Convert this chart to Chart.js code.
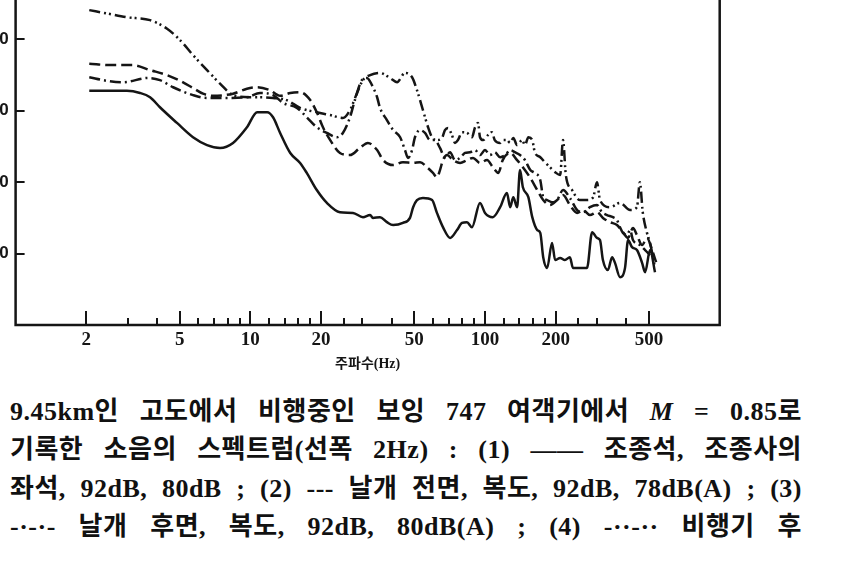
<!DOCTYPE html>
<html>
<head>
<meta charset="utf-8">
<script src="https://cdn.jsdelivr.net/npm/chart.js@4.4.1/dist/chart.umd.min.js"></script>
<style>
  html, body { margin: 0; padding: 0; background: #fff; }
  body { width: 868px; height: 562px; overflow: hidden; position: relative; }
  #chart { position: absolute; left: -60px; top: 0; }
  .cap {
    position: absolute; left: 10px; width: 792px;
    font-family: "Liberation Serif", "Noto Sans CJK KR", serif; font-weight: 700;
    font-size: 26px; letter-spacing: 0.5px; line-height: 38.5px; color: #111;
    text-align: justify; text-align-last: justify; white-space: nowrap;
  }
</style>
</head>
<body>
<canvas id="chart" width="928" height="380"></canvas>
<div class="cap" style="top:393px">9.45km인 고도에서 비행중인 보잉 747 여객기에서 <i>M</i> = 0.85로</div>
<div class="cap" style="top:431px">기록한 소음의 스펙트럼(선폭 2Hz) : (1) —— 조종석, 조종사의</div>
<div class="cap" style="top:470px">좌석, 92dB, 80dB ; (2) --- 날개 전면, 복도, 92dB, 78dB(A) ; (3)</div>
<div class="cap" style="top:508px">-·-·- 날개 후면, 복도, 92dB, 80dB(A) ; (4) -··-·· 비행기 후</div>
<script>
// frequency (Hz) and level (dB)
const s1Freq = [2.06, 2.98, 3.39, 3.74, 4.12, 4.87, 5.70, 6.54, 7.43, 8.44, 9.68, 10.7, 11.8, 12.5, 13.4, 14.8, 16.3, 17.4, 19.2, 21.2, 24.1, 27.4, 30.2, 32.4, 33.3, 35.7, 38.2, 40.6, 44.7, 47.9, 49.4, 51.3, 54.4, 59.5, 62.4, 66.2, 71.0, 76.0, 79.8, 83.8, 88.0, 95.2, 100, 108, 116, 124, 128, 132, 137, 141, 145, 153, 159, 167, 172, 177, 184, 193, 199, 209, 219, 230, 237, 272, 286, 300, 309, 318, 334, 348, 358, 376, 395, 407, 423, 444, 467, 481, 505, 530];
const s1Level = [82.8, 82.8, 82.5, 81.9, 80.5, 78.3, 76.3, 75.2, 74.8, 75.5, 77.7, 79.8, 79.8, 79.1, 76.9, 74.1, 72.7, 71.3, 68.9, 67.1, 65.8, 65.7, 65.1, 65.4, 65.0, 65.1, 64.4, 64.0, 64.3, 65.0, 66.5, 67.5, 67.8, 67.5, 65.7, 63.7, 62.2, 63.3, 64.3, 64.4, 63.7, 67.1, 65.7, 65.1, 66.5, 68.5, 66.5, 67.9, 66.5, 71.7, 69.3, 67.9, 65.1, 63.3, 62.9, 59.5, 58.0, 61.5, 59.1, 59.4, 59.1, 59.5, 58.0, 58.0, 63.0, 62.2, 61.9, 59.1, 57.7, 59.5, 58.7, 56.7, 58.0, 61.9, 60.9, 60.5, 58.7, 57.4, 60.5, 57.4];

const s2Freq = [2.06, 2.53, 3.16, 3.74, 4.42, 5.02, 5.70, 6.29, 6.94, 8.44, 9.68, 10.7, 12.1, 13.4, 14.8, 16.3, 18.0, 19.2, 20.4, 21.9, 24.1, 26.6, 29.3, 31.7, 34.7, 36.8, 40.6, 44.7, 49.4, 52.9, 56.6, 60.0, 62.4, 64.3, 66.2, 68.9, 73.0, 78.3, 83.8, 88.9, 95.2, 102, 108, 114, 119, 128, 137, 145, 156, 167, 177, 189, 203, 215, 230, 247, 262, 280, 300, 318, 341, 365, 387, 407, 427, 444, 467, 490, 515, 536];
const s2Level = [86.6, 86.4, 86.4, 85.7, 85.0, 84.2, 83.2, 82.4, 82.1, 82.4, 83.1, 83.3, 82.9, 82.1, 82.5, 82.6, 81.5, 79.8, 77.7, 75.9, 74.1, 73.8, 74.8, 75.5, 74.5, 73.1, 72.4, 72.8, 72.7, 72.8, 72.1, 71.3, 70.7, 71.7, 73.1, 73.8, 73.1, 72.7, 73.1, 73.4, 72.7, 73.1, 72.1, 71.3, 73.1, 74.1, 73.1, 72.1, 70.6, 68.9, 67.5, 66.8, 67.5, 68.2, 66.8, 65.7, 66.1, 65.4, 65.8, 65.0, 64.4, 64.0, 63.0, 62.2, 63.6, 62.6, 61.2, 62.2, 60.5, 58.8];

const s3Freq = [2.06, 2.45, 2.87, 3.67, 4.12, 4.69, 5.70, 6.54, 7.96, 9.68, 11.0, 12.5, 13.8, 15.8, 17.4, 19.2, 21.2, 23.4, 24.8, 26.6, 27.9, 29.9, 31.4, 33.0, 34.7, 35.7, 38.2, 40.6, 43.5, 45.6, 47.0, 48.9, 50.3, 52.9, 55.5, 58.3, 61.2, 64.3, 67.5, 71.0, 74.5, 78.3, 82.2, 86.3, 90.7, 95.2, 100, 105, 110, 116, 122, 128, 134, 141, 148, 156, 163, 172, 177, 184, 193, 203, 215, 230, 247, 262, 280, 300, 315, 331, 351, 365, 376, 387, 403, 415, 427, 457, 481, 505];
const s3Level = [84.7, 84.2, 84.0, 84.6, 84.3, 83.3, 82.2, 81.8, 81.8, 81.9, 82.5, 82.2, 81.1, 80.4, 79.1, 77.7, 76.9, 76.3, 76.9, 79.1, 81.5, 84.3, 84.6, 83.6, 81.9, 80.4, 78.7, 77.3, 76.3, 74.5, 73.4, 74.5, 76.3, 77.3, 76.9, 75.9, 75.9, 74.8, 73.5, 74.2, 73.1, 73.4, 74.1, 74.2, 74.5, 73.8, 74.5, 73.8, 74.2, 73.5, 73.8, 74.5, 74.2, 73.8, 73.1, 71.7, 71.3, 70.3, 67.9, 67.5, 67.2, 67.5, 68.9, 67.8, 66.1, 65.8, 66.5, 66.8, 65.8, 65.4, 65.1, 64.7, 63.7, 62.9, 62.6, 63.3, 61.9, 61.2, 60.5, 59.8];

const s4Freq = [2.06, 2.48, 2.98, 3.74, 4.42, 5.02, 5.70, 6.54, 7.43, 8.44, 9.97, 11.0, 12.5, 14.3, 16.3, 19.2, 21.9, 24.8, 26.6, 28.5, 30.2, 32.4, 35.7, 39.4, 42.2, 45.6, 48.9, 51.3, 54.4, 57.2, 59.5, 62.4, 65.6, 67.5, 69.6, 72.3, 74.5, 76.7, 79.8, 83.8, 88.0, 90.7, 93.4, 95.2, 98.1, 103, 107, 110, 116, 119, 124, 128, 132, 137, 144, 148, 153, 159, 163, 172, 180, 189, 199, 209, 215, 221, 235, 254, 272, 289, 300, 309, 341, 376, 415, 444, 457, 470, 490, 505, 530];
const s4Level = [94.1, 93.6, 93.1, 92.7, 91.5, 89.9, 87.8, 85.7, 83.8, 82.2, 81.9, 81.9, 81.8, 81.5, 80.4, 79.8, 79.4, 79.0, 80.1, 82.5, 84.3, 85.0, 85.3, 84.6, 84.0, 85.3, 84.7, 82.9, 80.1, 77.7, 76.3, 75.9, 76.2, 77.3, 77.6, 76.6, 75.5, 75.9, 77.0, 76.9, 76.3, 77.7, 78.3, 76.3, 75.9, 76.6, 77.0, 75.9, 75.5, 75.9, 75.9, 75.5, 76.2, 75.2, 75.9, 75.2, 76.3, 75.9, 74.2, 73.5, 72.8, 72.1, 71.4, 71.0, 75.9, 71.0, 68.9, 67.5, 67.5, 67.9, 70.0, 67.5, 66.5, 67.1, 66.1, 66.5, 70.0, 65.8, 62.9, 61.5, 58.0];

const majorTicks = [2, 5, 10, 20, 50, 100, 200, 500];
const minorTicks = [3, 4, 6, 7, 8, 9, 12, 14, 16, 18, 25, 30, 40, 60, 70, 80, 90, 120, 140, 160, 180, 250, 300, 400];
const yTicks = [60, 70, 80, 90];

const pts = (f, v) => f.map((x, i) => ({ x: x, y: v[i] }));
const ink = '#151515';

function series(f, v, dash) {
  return {
    data: pts(f, v),
    borderColor: ink,
    borderWidth: 2.5,
    borderDash: dash,
    pointRadius: 0,
    fill: false,
    cubicInterpolationMode: 'monotone'
  };
}

// frame and inward tick marks, like the printed figure
const frameTicks = {
  id: 'frameTicks',
  afterDraw(chart) {
    const { ctx, chartArea: a, scales: { x, y } } = chart;
    ctx.save();
    ctx.strokeStyle = ink;
    ctx.lineWidth = 2.5;
    ctx.beginPath();
    ctx.moveTo(a.left, a.top);
    ctx.lineTo(a.left, a.bottom);
    ctx.lineTo(a.right, a.bottom);
    ctx.lineTo(a.right, a.top);
    ctx.stroke();
    ctx.lineWidth = 2;
    ctx.beginPath();
    x.ticks.forEach(t => {
      const px = Math.round(x.getPixelForValue(t.value));
      const len = majorTicks.includes(t.value) ? 14 : 7;
      ctx.moveTo(px, a.bottom);
      ctx.lineTo(px, a.bottom - len);
    });
    yTicks.forEach(v => {
      const py = Math.round(y.getPixelForValue(v));
      ctx.moveTo(a.left, py);
      ctx.lineTo(a.left + 9, py);
    });
    ctx.stroke();
    ctx.restore();
  }
};

new Chart(document.getElementById('chart'), {
  type: 'line',
  data: {
    datasets: [
      series(s1Freq, s1Level, []),
      series(s2Freq, s2Level, [11, 5]),
      series(s3Freq, s3Level, [11, 4, 2, 4]),
      series(s4Freq, s4Level, [11, 4, 2, 3, 2, 4])
    ]
  },
  options: {
    responsive: false,
    animation: false,
    devicePixelRatio: 1,
    layout: { padding: { left: 0, right: 148.3, top: 0, bottom: 0 } },
    plugins: { legend: { display: false }, tooltip: { enabled: false } },
    scales: {
      x: {
        type: 'logarithmic',
        min: 1,
        max: 1000,
        grid: { display: false, drawTicks: false },
        border: { display: false },
        afterBuildTicks: s => {
          s.ticks = majorTicks.concat(minorTicks).sort((a, b) => a - b).map(v => ({ value: v }));
        },
        afterFit: s => { s.height = 55; s.paddingLeft = 0; s.paddingRight = 0; },
        ticks: {
          autoSkip: false,
          maxRotation: 0,
          padding: 4,
          color: ink,
          font: { family: "'Liberation Serif', serif", size: 19, weight: 'bold' },
          callback: v => majorTicks.includes(v) ? String(v) : ''
        },
        title: {
          display: true,
          text: '주파수(Hz)',
          color: ink,
          padding: { top: 0, bottom: 7 },
          font: { family: "'Liberation Serif', 'Noto Sans CJK KR', serif", size: 14, weight: 'bold' }
        }
      },
      y: {
        min: 50,
        max: 95.52,
        grid: { display: false, drawTicks: false },
        border: { display: false },
        afterBuildTicks: s => { s.ticks = yTicks.map(v => ({ value: v })); },
        afterFit: s => { s.width = 75.6; s.paddingTop = 0; s.paddingBottom = 0; },
        ticks: {
          padding: 7,
          color: ink,
          font: { family: "'Liberation Sans', sans-serif", size: 17, weight: 'bold' }
        }
      }
    }
  },
  plugins: [frameTicks]
});
</script>
</body>
</html>
